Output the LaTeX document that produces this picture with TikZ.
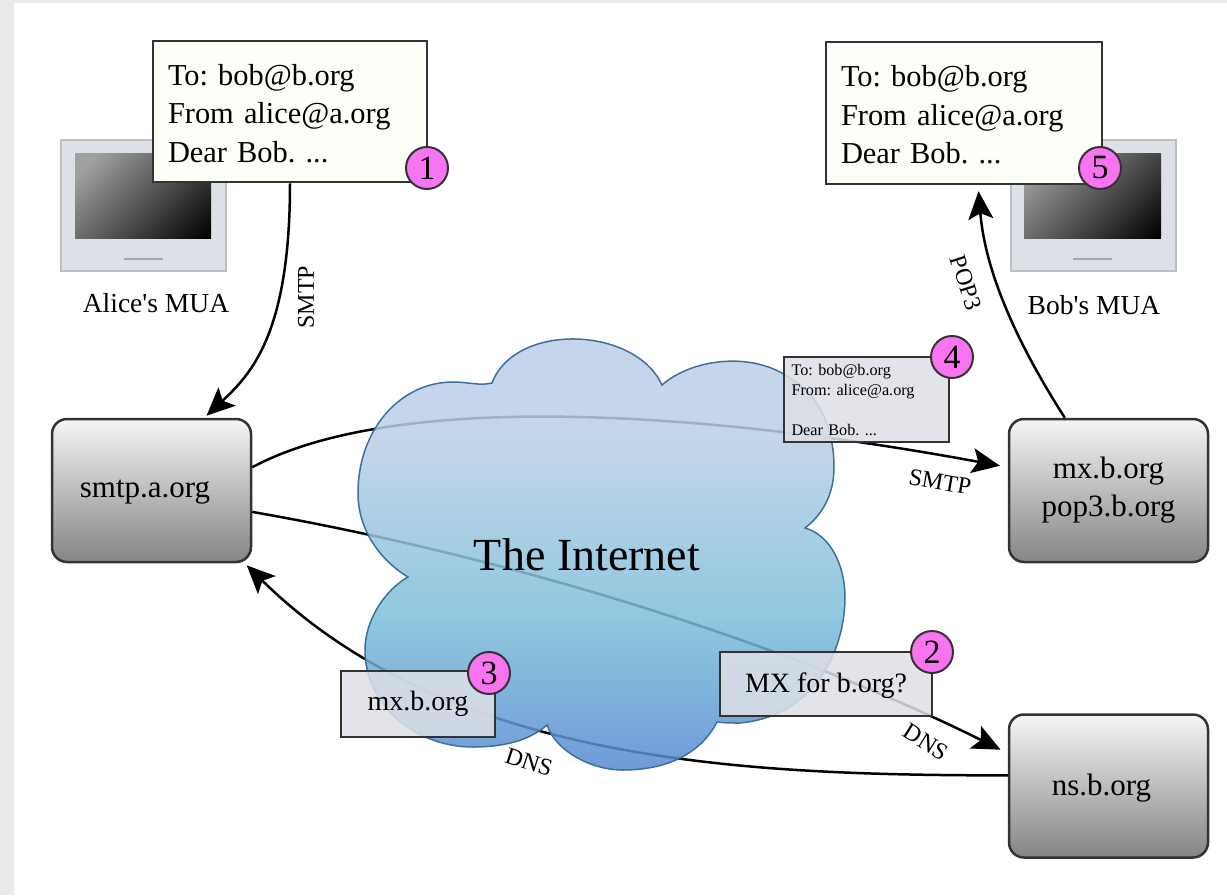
\documentclass[tikz,border=0pt]{standalone}
\usepackage{fontspec}
\setmainfont{Liberation Serif}
\usetikzlibrary{arrows.meta}
\frenchspacing
\definecolor{strip}{HTML}{E9EBEB}
\definecolor{panel}{HTML}{DDE0E6}
\definecolor{panelline}{HTML}{BBBEC2}
\definecolor{paper}{HTML}{FBFFF7}
\definecolor{ink}{HTML}{333333}
\definecolor{badge}{HTML}{F974F0}
\definecolor{cloudline}{HTML}{3F6F9F}
\definecolor{cloudbot}{RGB}{86,137,209}
\definecolor{cloudmid}{RGB}{124,190,216}
\definecolor{cloudtop}{RGB}{187,206,231}
\definecolor{glasslight}{HTML}{A0A0A0}
\pgfdeclareverticalshading{cloudfade}{100bp}{color(0bp)=(cloudbot); color(25bp)=(cloudbot);
  color(42bp)=(cloudmid); color(62bp)=(cloudtop); color(100bp)=(cloudtop)}
\pgfdeclarehorizontalshading{glassfade}{100bp}{color(0bp)=(glasslight); color(22bp)=(glasslight);
  color(85bp)=(black); color(100bp)=(black)}
\tikzset{
  server/.style={draw=ink, line width=2.5pt, rounded corners=15pt, top color=white!96!black,
    bottom color=black!48, minimum width=199pt, minimum height=143pt, inner sep=0pt,
    font=\fontsize{31}{38}\selectfont, align=center},
  letter/.style={draw=ink, line width=2.5pt, fill=paper, inner sep=15pt, align=left,
    font=\fontsize{30.4}{38.5}\selectfont, text height=25pt},
  note/.style={draw=ink, line width=2.5pt, fill=panel, fill opacity=.86, text opacity=1,
    inner sep=0pt, font=\fontsize{28}{34}\selectfont},
  badgeball/.style={circle, draw=ink, line width=2pt, fill=badge, minimum size=42pt,
    inner sep=0pt, font=\fontsize{34}{34}\selectfont},
  screenname/.style={font=\fontsize{27.5}{32}\selectfont},
  wirename/.style={font=\fontsize{24}{28}\selectfont, inner sep=0pt},
  wire/.style={line width=2.5pt, draw=black},
  tipwire/.style={wire, -{Stealth[length=28pt,width=25pt,inset=6pt]}},
  monitorcase/.style={fill=panel, draw=panelline, line width=2pt},
  monitorglass/.style={shading=glassfade, shading angle=-45},
  monitorslot/.style={draw=black!35, line width=2pt}
}
\begin{document}
\begin{tikzpicture}[x=1pt, y=-1pt]
  \useasboundingbox (0, 0) rectangle (1227, 895);
  \fill[strip] (0, 0) rectangle (14, 895);
  \fill[strip] (0, 0) rectangle (1227, 3);
  \path[monitorcase, draw] (61, 140) rectangle (226, 271);
  \shade[monitorglass] (75, 153) rectangle (211, 238);
  \draw[monitorslot] (124, 259) -- (163, 259);
  \node[screenname] (alicename) at (156, 303) {Alice\textquotesingle s MUA};
  \path[monitorcase, draw] (1011, 140) rectangle (1176, 271);
  \shade[monitorglass] (1024, 153) rectangle (1161, 238);
  \draw[monitorslot] (1073, 259) -- (1112, 259);
  \node[screenname] (bobname) at (1094, 305) {Bob\textquotesingle s MUA};
  \node[server, text depth=2.5pt] (smtpa) at (151.5, 490.5) {smtp.a.org\hspace{13pt}};
  \node[server] (mxb) at (1108.5, 490.5) {mx.b.org\\pop3.b.org};
  \node[server, text depth=2.5pt] (nsb) at (1108.5, 786) {ns.b.org\hspace{14pt}};
  \node[letter, minimum width=274pt, minimum height=141pt, text width=244pt] (msga)
  at (290, 111.5) {To: bob@b.org\\From alice@a.org\\Dear Bob. ...};
  \node[letter, minimum width=276pt, minimum height=142pt, text width=246pt] (msgb)
  at (964, 113) {To: bob@b.org\\From alice@a.org\\Dear Bob. ...};
  \draw[tipwire, shorten >=3pt]
  (msga.south) .. controls +(0, 150) and +(47, -44) .. (smtpa.54);
  \draw[tipwire, shorten >=8pt]
  (smtpa.13) .. controls (400, 388) and (720, 414) .. (mxb.167);
  \draw[tipwire, shorten >=8pt]
  (smtpa.-12) .. controls (500, 555) and (780, 640) .. (nsb.162);
  \draw[tipwire, shorten >=3pt]
  (nsb.174) .. controls (750, 775) and (450, 765) .. (smtpa.-38);
  \draw[tipwire, shorten >=6pt]
  (mxb.121) .. controls (1015, 340) and (985, 270) .. (msgb.-79);
  \shadedraw[shading=cloudfade, draw=cloudline, line width=1.5pt, fill opacity=.85]
  (492, 383) .. controls (515, 322) and (635, 326) .. (662, 385)
  .. controls (690, 360) and (750, 350) .. (790, 378)
  .. controls (820, 395) and (834, 430) .. (834, 467)
  .. controls (834, 495) and (822, 515) .. (805, 528)
  .. controls (830, 535) and (845, 565) .. (845, 597)
  .. controls (845, 650) and (815, 716) .. (740, 723)
  .. controls (732, 723) and (725, 723) .. (717, 722)
  .. controls (700, 755) and (665, 770) .. (623, 770)
  .. controls (590, 770) and (555, 750) .. (547, 725)
  .. controls (530, 740) and (505, 747) .. (473, 747)
  .. controls (415, 747) and (365, 705) .. (365, 650)
  .. controls (365, 620) and (385, 590) .. (408, 577)
  .. controls (380, 560) and (358, 530) .. (358, 493)
  .. controls (358, 430) and (400, 382) .. (453, 382)
  .. controls (468, 382) and (480, 386) .. (492, 383) -- cycle;
  \node[font=\fontsize{46}{50}\selectfont] (internet) at (587, 555) {The Internet};
  \node[note, minimum width=154pt, minimum height=66pt] (mxanswer) at (418, 704)
  {mx.b.org\hspace{8pt}};
  \node[note, minimum width=212pt, minimum height=64pt, text depth=2pt] (mxquery) at (826, 684)
  {MX for b.org?\hspace{7pt}};
  \node[note, minimum width=165pt, minimum height=85pt, text width=150pt, align=left,
  font=\fontsize{16.2}{20}\selectfont] (relay) at (866.5, 399.5)
  {To: bob@b.org\\From: alice@a.org\\[20pt]Dear Bob. ...};
  \node[wirename, rotate=90] (smtpone) at (306, 297) {SMTP};
  \node[wirename, rotate=-10] (smtptwo) at (940, 482) {SMTP};
  \node[wirename, rotate=-32] (dnsone) at (926, 742) {DNS};
  \node[wirename, rotate=-18] (dnstwo) at (529, 762) {DNS};
  \node[wirename, rotate=-72] (popthree) at (966, 283) {POP3};
  \node[badgeball] (stepone) at (427, 168) {1};
  \node[badgeball] (steptwo) at (932, 652) {2};
  \node[badgeball] (stepthree) at (489, 673) {3};
  \node[badgeball] (stepfour) at (952, 357) {4};
  \node[badgeball] (stepfive) at (1100, 168) {5};
\end{tikzpicture}
\end{document}
